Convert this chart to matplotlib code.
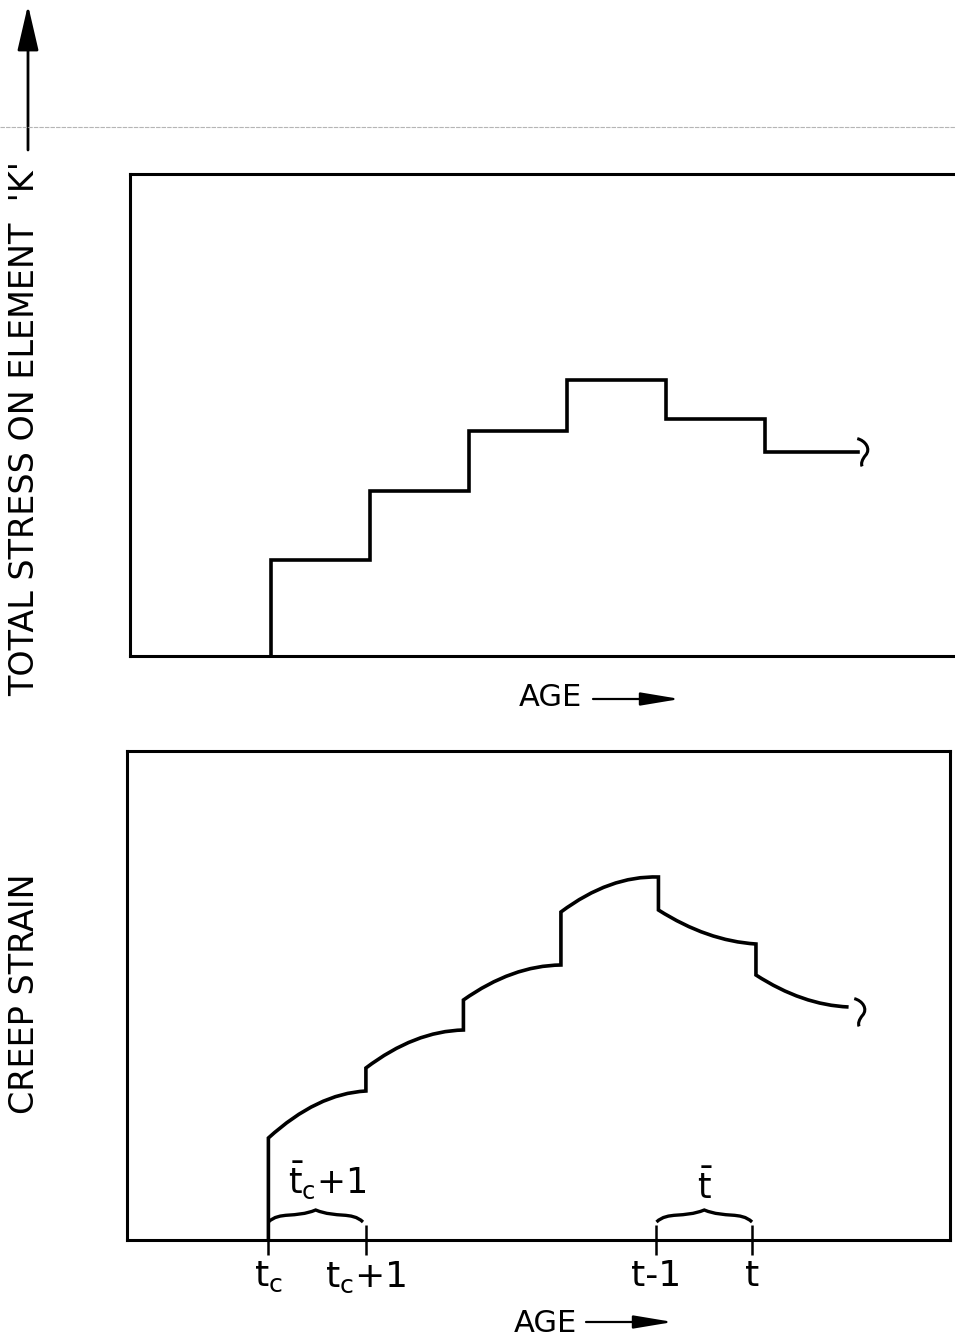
import numpy as np
import matplotlib
matplotlib.use('Agg')
import matplotlib.pyplot as plt
from matplotlib.path import Path
from matplotlib.patches import PathPatch, FancyArrowPatch
from matplotlib.lines import Line2D

plt.rcParams['font.family'] = ['DejaVu Sans']
plt.rcParams['mathtext.fontset'] = 'dejavusans'

# ---------------- data ----------------
step_edges = [0, 1, 2, 3, 4, 5, 5.95]
stress_levels = [96, 165, 225, 276, 237, 204]

creep_edges = [0, 1, 2, 3, 4, 5, 5.95]
creep_start = [102, 172, 240, 328, 330, 265]
creep_mid = [136, 200, 266, 355, 306, 242]
creep_end = [149, 210, 275, 363, 296, 233]

tick_pos = [0, 1, 3.98, 4.96]
tick_labels = [r'$\mathsf{t_c}$', r'$\mathsf{t_c}$+1', 't-1', 't']
brace_spans = [(0, 0.97), (3.98, 4.96)]
brace_labels = [r'$\mathsf{\bar{t}_c}$+1', r'$\mathsf{\bar{t}}$']

top_ylabel = "TOTAL STRESS ON ELEMENT  'K'"
bottom_ylabel = "CREEP STRAIN"
xlabel = "AGE"

# ---------------- layout helpers ----------------
W, H = 955, 1341
fig = plt.figure(figsize=(W / 100, H / 100), dpi=100)


def px_rect(l, t, r, b):
    return [l / W, 1 - b / H, (r - l) / W, (b - t) / H]


def fx(x):
    return x / W


def fy(y):
    return 1 - y / H


LW = 2.6

# break symbol (small vertical S-curve) used as a marker
squig = Path([(-0.45, 1.0), (0.15, 0.85), (0.55, 0.25), (0.15, -0.2),
              (-0.1, -0.5), (-0.2, -0.8), (-0.1, -1.0)],
             [Path.MOVETO, Path.CURVE4, Path.CURVE4, Path.CURVE4,
              Path.CURVE4, Path.CURVE4, Path.CURVE4])

# ---------------- top panel ----------------
ax1 = fig.add_axes(px_rect(130, 174, 962, 656))
ax1.set_xlim(-1.43, 7.0)
ax1.set_ylim(0, 482)
ax1.set_xticks([])
ax1.set_yticks([])
for s in ax1.spines.values():
    s.set_linewidth(2.2)
ax1.step(np.r_[step_edges[0], step_edges],
         np.r_[0, stress_levels, stress_levels[-1]],
         where='post', color='k', lw=LW, solid_joinstyle='miter')
ax1.plot([step_edges[-1] + 0.05], [stress_levels[-1]], marker=squig,
         markersize=20, mfc='none', mec='k', mew=2.2, ls='none')

# ---------------- bottom panel ----------------
ax2 = fig.add_axes(px_rect(127, 751, 950, 1240))
ax2.set_xlim(-1.45, 6.99)
ax2.set_ylim(0, 489)
ax2.set_yticks([])
for s in ax2.spines.values():
    s.set_linewidth(2.2)

verts = [(creep_edges[0], 0)]
codes = [Path.MOVETO]
for i in range(len(creep_start)):
    x0, x1 = creep_edges[i], creep_edges[i + 1]
    s, m, e = creep_start[i], creep_mid[i], creep_end[i]
    c = 2 * m - (s + e) / 2
    verts += [(x0, s), ((x0 + x1) / 2, c), (x1, e)]
    codes += [Path.LINETO, Path.CURVE3, Path.CURVE3]
ax2.add_patch(PathPatch(Path(verts, codes), fill=False, ec='k', lw=LW,
                        joinstyle='miter'))
ax2.plot([creep_edges[-1] + 0.12], [creep_end[-1] - 5], marker=squig,
         markersize=20, mfc='none', mec='k', mew=2.2, ls='none')

ax2.set_xticks(tick_pos)
ax2.set_xticklabels(tick_labels, fontsize=26)
ax2.tick_params(axis='x', direction='inout', length=22, width=1.8, pad=3)

# braces
for (a, b), lab in zip(brace_spans, brace_labels):
    w = b - a
    m = (a + b) / 2
    y0, h = 18, 12
    bv = [(a, y0), (a + 0.12 * w, y0 + h * 0.9), (m - 0.22 * w, y0 + h * 0.3), (m, y0 + h),
          (m + 0.22 * w, y0 + h * 0.3), (b - 0.12 * w, y0 + h * 0.9), (b, y0)]
    bc = [Path.MOVETO, Path.CURVE4, Path.CURVE4, Path.CURVE4,
          Path.CURVE4, Path.CURVE4, Path.CURVE4]
    ax2.add_patch(PathPatch(Path(bv, bc), fill=False, ec='k', lw=2.4))
    ax2.text(m + (0.12 if '+' in lab else 0), 60 if '+' in lab else 52, lab,
             fontsize=25, ha='center', va='center')

# ---------------- labels and arrows ----------------
fig.text(fx(25), fy(428), top_ylabel, rotation=90, ha='center', va='center',
         fontsize=24)
fig.text(fx(25), fy(994), bottom_ylabel, rotation=90, ha='center', va='center',
         fontsize=24)

fig.add_artist(FancyArrowPatch((fx(28), fy(150)), (fx(28), fy(5)),
                               transform=fig.transFigure,
                               arrowstyle='-|>,head_length=2.8,head_width=0.65',
                               mutation_scale=10, lw=2.0, color='k',
                               shrinkA=0, shrinkB=0))

fig.text(fx(550), fy(697), xlabel, ha='center', va='center', fontsize=22)
fig.add_artist(FancyArrowPatch((fx(593), fy(699)), (fx(680), fy(699)),
                               transform=fig.transFigure,
                               arrowstyle='-|>,head_length=2.4,head_width=0.4',
                               mutation_scale=10, lw=1.6, color='k',
                               shrinkA=0, shrinkB=0))

fig.text(fx(545), fy(1324), xlabel, ha='center', va='center', fontsize=22)
fig.add_artist(FancyArrowPatch((fx(586), fy(1322)), (fx(673), fy(1322)),
                               transform=fig.transFigure,
                               arrowstyle='-|>,head_length=2.4,head_width=0.4',
                               mutation_scale=10, lw=1.6, color='k',
                               shrinkA=0, shrinkB=0))

# faint scan line across the page
fig.add_artist(Line2D([0, 1], [fy(127), fy(127)], transform=fig.transFigure,
                      color='#b5b5b5', lw=0.8, ls=(0, (4, 1))))

fig.savefig('out.png', dpi=100)
